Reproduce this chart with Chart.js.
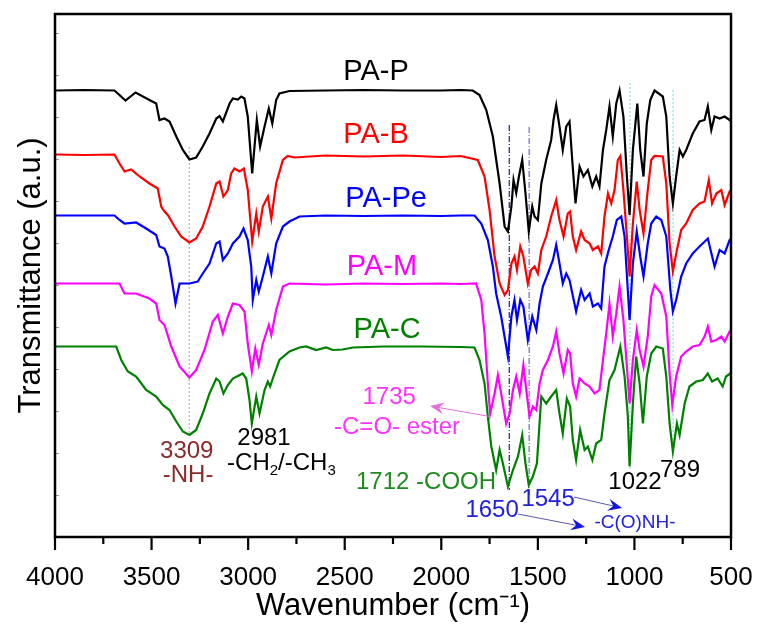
<!DOCTYPE html>
<html><head><meta charset="utf-8">
<script src="https://cdn.jsdelivr.net/npm/chart.js@4.4.0/dist/chart.umd.min.js"></script>
<style>html,body{margin:0;padding:0;background:#fff}#wrap{width:760px;height:628px;position:relative}</style>
</head><body><div id="wrap"><canvas id="c"></canvas></div>
<script>
// ---- data: [wavenumber (cm-1), transmittance (a.u.)] ----
const seriesNames = ['PA-P', 'PA-B', 'PA-Pe', 'PA-M', 'PA-C'];
const xTickValues = [4000, 3500, 3000, 2500, 2000, 1500, 1000, 500];

const paP = [[4000,89.3],[3850,89.4],[3692,89.3],[3635,87.3],[3583,88.9],[3511,87.4],[3476,86.7],[3459,83.4],[3433,83.7],[3407,83.1],[3372,80.1],[3338,77.4],[3304,75.5],[3269,75.9],[3235,78.1],[3200,80.7],[3165,83.7],[3148,84.2],[3131,83.1],[3096,86.7],[3079,87.7],[3053,87.5],[3036,88.1],[3019,87.7],[3002,84.1],[2979,72.7],[2967,78.1],[2955,83.4],[2938,78.1],[2915,82.1],[2893,85.7],[2875,82.7],[2855,87.4],[2838,88.7],[2786,89.2],[2600,89.3],[2400,89.4],[2200,89.3],[2000,89.3],[1900,89.4],[1837,89.3],[1802,88.4],[1767,85.4],[1733,80.1],[1698,70.7],[1672,62.1],[1655,61.1],[1637,66.1],[1626,71.4],[1612,68.8],[1598,72.1],[1581,75.4],[1564,68.7],[1547,61.1],[1529,66.1],[1517,64.1],[1500,63.4],[1482,70.7],[1457,75.4],[1431,79.4],[1419,83.4],[1405,86.4],[1388,82.1],[1371,77.4],[1353,82.1],[1336,83.1],[1322,75.4],[1305,66.7],[1284,74.1],[1264,72.1],[1241,73.4],[1218,70.1],[1198,72.1],[1181,70.1],[1163,77.4],[1146,81.4],[1129,86.1],[1112,80.1],[1094,86.7],[1077,89.3],[1057,84.1],[1039,72.1],[1025,64.4],[1008,77.4],[985,86.7],[970,77.4],[953,72.1],[936,82.7],[918,87.4],[896,89.3],[853,88.1],[835,84.1],[818,72.1],[801,66.7],[784,72.1],[766,77.4],[749,76.1],[732,77.4],[698,80.7],[663,83.1],[637,83.4],[620,86.1],[602,81.4],[585,84.1],[559,83.7],[533,84.1],[507,83.4],[500,83.2]];

const paB = [[4000,76.5],[3850,76.4],[3692,76.5],[3666,74.7],[3640,73.1],[3606,73.5],[3562,72.1],[3511,70.7],[3468,69.7],[3450,66.1],[3433,65.1],[3416,64.4],[3381,62.1],[3347,60.1],[3304,58.9],[3269,59.7],[3235,62.1],[3200,66.1],[3165,70.7],[3148,71.1],[3128,68.1],[3105,69.4],[3088,72.7],[3071,73.7],[3045,73.1],[3022,73.7],[3002,69.4],[2979,59.1],[2958,64.7],[2945,61.1],[2924,66.1],[2898,68.1],[2880,63.7],[2855,70.7],[2820,75.4],[2795,76.2],[2760,75.9],[2600,76.3],[2400,76.1],[2200,76.3],[2000,76.0],[1900,76.2],[1811,75.4],[1776,72.1],[1750,65.4],[1724,56.1],[1698,50.7],[1672,48.4],[1655,49.4],[1637,54.7],[1621,56.1],[1608,53.4],[1591,58.1],[1575,56.1],[1552,50.7],[1535,53.4],[1517,54.1],[1500,52.7],[1482,57.4],[1457,60.1],[1431,64.1],[1405,67.4],[1388,63.4],[1367,60.1],[1345,64.7],[1333,65.1],[1319,60.1],[1302,57.4],[1276,61.1],[1258,59.4],[1232,58.7],[1215,57.4],[1189,58.1],[1172,56.7],[1155,64.1],[1137,68.7],[1120,66.7],[1103,69.4],[1086,75.4],[1073,76.2],[1057,69.4],[1039,60.1],[1025,52.1],[1008,62.7],[988,71.1],[973,65.4],[953,60.7],[931,69.4],[913,75.4],[896,76.2],[853,76.1],[835,70.7],[818,58.7],[801,53.1],[780,57.4],[758,61.4],[732,62.7],[698,65.4],[663,66.7],[637,67.1],[615,71.4],[598,66.7],[576,68.7],[550,69.4],[533,66.4],[507,69.1],[500,69.3]];

const paPe = [[4000,64.3],[3850,64.3],[3692,64.3],[3666,63.4],[3640,62.7],[3580,62.9],[3528,61.7],[3476,60.4],[3459,58.1],[3433,57.7],[3416,56.1],[3398,52.1],[3376,46.7],[3355,50.7],[3304,50.7],[3261,51.1],[3235,52.7],[3200,54.7],[3165,58.7],[3148,59.1],[3131,55.4],[3105,56.7],[3079,58.7],[3045,60.1],[3024,61.7],[3002,59.4],[2984,54.1],[2976,47.4],[2958,51.4],[2945,49.1],[2924,52.1],[2898,56.1],[2880,52.7],[2855,58.7],[2820,62.1],[2786,63.1],[2734,64.1],[2600,64.3],[2400,64.2],[2200,64.3],[2000,64.2],[1900,64.3],[1828,64.3],[1793,62.7],[1759,59.4],[1733,54.1],[1716,48.7],[1690,44.1],[1655,36.1],[1637,44.1],[1621,47.4],[1608,43.4],[1591,47.4],[1575,46.1],[1552,39.4],[1529,44.1],[1508,41.4],[1491,46.7],[1474,50.1],[1448,52.7],[1422,55.4],[1405,58.4],[1388,54.7],[1371,50.7],[1353,52.7],[1336,51.4],[1302,45.1],[1276,49.4],[1258,47.4],[1232,48.7],[1215,46.1],[1189,46.7],[1172,45.7],[1155,54.1],[1133,57.4],[1112,60.1],[1091,63.4],[1068,64.1],[1051,60.1],[1025,43.4],[1008,54.7],[988,61.1],[970,56.1],[953,52.1],[931,58.7],[913,62.7],[887,64.1],[861,63.4],[835,60.1],[814,49.4],[801,45.1],[784,47.4],[758,52.1],[732,54.7],[698,56.7],[663,58.1],[620,59.7],[585,54.1],[559,57.4],[533,56.7],[507,59.4],[500,59.6]];

const paM = [[4000,50.7],[3850,50.7],[3666,50.7],[3640,48.7],[3580,48.7],[3511,47.7],[3476,46.7],[3459,43.4],[3433,42.4],[3398,38.1],[3355,34.1],[3304,31.9],[3269,33.4],[3226,37.4],[3183,43.1],[3157,44.4],[3131,40.7],[3105,44.1],[3079,46.7],[3045,46.4],[3019,45.1],[3002,38.7],[2981,33.1],[2963,37.7],[2945,34.4],[2924,38.7],[2893,42.4],[2880,40.4],[2855,45.4],[2820,50.1],[2786,50.7],[2600,50.5],[2400,50.7],[2200,50.6],[2000,50.7],[1900,50.6],[1820,50.7],[1793,47.4],[1776,40.7],[1759,30.7],[1747,24.7],[1724,28.7],[1707,32.4],[1690,28.7],[1664,22.7],[1646,24.7],[1629,29.4],[1612,32.1],[1594,28.7],[1575,34.4],[1560,29.4],[1543,24.1],[1526,26.1],[1508,25.4],[1491,30.7],[1474,33.4],[1448,35.4],[1422,38.1],[1405,41.1],[1388,36.7],[1367,32.7],[1345,37.4],[1333,36.7],[1319,30.7],[1302,28.1],[1284,31.7],[1258,30.7],[1232,30.1],[1206,28.7],[1181,29.4],[1163,35.4],[1146,40.7],[1129,46.7],[1112,40.1],[1094,44.7],[1077,50.1],[1057,43.4],[1039,34.1],[1025,26.7],[1008,35.4],[988,41.4],[973,37.4],[953,34.1],[931,40.1],[913,48.1],[896,50.4],[861,48.7],[835,44.1],[818,32.7],[804,26.4],[784,32.1],[758,36.1],[732,37.1],[698,38.1],[663,38.4],[637,40.1],[620,42.1],[602,39.1],[576,39.4],[550,40.1],[533,39.1],[507,41.1],[500,41.3]];

const paC = [[4000,38.1],[3850,38.1],[3683,38.1],[3657,35.4],[3623,33.1],[3580,32.1],[3528,29.4],[3476,28.1],[3442,26.4],[3407,25.4],[3372,23.1],[3338,21.1],[3304,20.4],[3269,21.4],[3235,24.7],[3200,28.7],[3165,31.7],[3148,31.1],[3128,28.7],[3105,30.4],[3079,31.7],[3053,32.2],[3028,32.7],[3010,31.7],[2993,27.4],[2981,22.7],[2958,28.1],[2941,24.7],[2915,29.4],[2898,31.1],[2886,30.1],[2869,32.1],[2838,35.4],[2786,37.1],[2734,37.9],[2700,38.1],[2648,37.4],[2596,37.9],[2562,37.4],[2510,37.5],[2458,37.9],[2300,38.1],[2100,38.1],[1900,38.0],[1828,37.9],[1802,35.4],[1776,30.7],[1759,24.1],[1741,18.1],[1716,13.4],[1698,17.4],[1681,14.7],[1655,10.1],[1629,13.4],[1603,16.1],[1581,20.4],[1564,14.7],[1547,10.4],[1526,12.1],[1505,14.7],[1482,28.1],[1457,26.7],[1431,28.1],[1405,29.4],[1388,24.7],[1371,20.7],[1350,27.7],[1333,26.1],[1319,19.4],[1302,15.4],[1281,21.4],[1258,17.4],[1241,18.1],[1218,15.4],[1198,18.7],[1172,19.4],[1155,24.7],[1129,31.4],[1103,33.4],[1073,38.1],[1051,32.1],[1034,24.1],[1025,14.1],[1008,26.7],[991,36.1],[973,30.7],[956,22.7],[936,32.1],[913,36.7],[887,38.1],[853,37.7],[835,32.1],[818,22.7],[801,17.1],[780,22.7],[766,20.4],[740,26.7],[715,30.1],[680,31.1],[646,31.4],[620,32.7],[598,31.1],[569,31.7],[543,30.1],[526,32.1],[507,32.6],[500,32.8]];

// band marker lines: wavenumber, upper and lower transmittance ends
const markerWavenumbers = [3305, 1648, 1545, 1023, 800];
const markerTop = [78.0, 82.4, 82.0, 90.8, 89.4];
const markerBottom = [20.4, 9.4, 8.4, 13.4, 16.4];

// ---- styles ----
const seriesColors = ['#000000', '#ff0000', '#0000ff', '#ff00ff', '#008000'];
const markerColors = ['#c9a9a9', '#20208a', '#6a6ad0', '#7fe3e3', '#7fe3e3'];
const markerDash = [[2, 2], [6, 2, 1, 2], [6, 2, 1, 2], [2, 2], [2, 2]];
const FONT = "'Liberation Sans', Arial, Helvetica, sans-serif";
Chart.defaults.font.family = FONT;

// name label positions (in data units) for each series
const nameLabelPos = [[2338, 93.0], [2338, 80.4], [2286, 67.7], [2307, 54.1], [2281, 41.4]];

// annotation texts
const notes = [
  {t: '3309', x: 3318, y: 17.2, c: '#8b2a2a', s: 24},
  {t: '-NH-', x: 3311, y: 12.4, c: '#8b2a2a', s: 24},
  {t: '2981', x: 2918, y: 19.8, c: '#000000', s: 24},
  {t: '1735', x: 2270, y: 28.0, c: '#ff33ff', s: 24},
  {t: '-C=O- ester', x: 2229, y: 22.0, c: '#ff33ff', s: 24},
  {t: '1712 -COOH', x: 2079, y: 11.0, c: '#1f8a1f', s: 24},
  {t: '1022', x: 997, y: 11.0, c: '#000000', s: 24},
  {t: '789', x: 764, y: 13.4, c: '#000000', s: 24},
  {t: '1545', x: 1447, y: 7.6, c: '#2020e0', s: 24},
  {t: '1650', x: 1737, y: 5.4, c: '#2020e0', s: 24},
  {t: '-C(O)NH-', x: 997, y: 2.8, c: '#2020e0', s: 19}
];
const arrows = [
  {from: [1748, 24.1], to: [2058, 26.2], c: '#e070e0', h: '#e070e0'},
  {from: [1313, 8.0], to: [1064, 5.8], c: '#5a5ab0', h: '#1515e0'},
  {from: [1603, 4.6], to: [1256, 2.0], c: '#5a5ab0', h: '#1515e0'}
];

const datasets = [paP, paB, paPe, paM, paC].map((d, i) => ({
  label: seriesNames[i], data: d, borderColor: seriesColors[i], borderWidth: 2.2,
  pointRadius: 0, tension: 0, fill: false
}));
markerWavenumbers.forEach((w, i) => {
  datasets.push({
    label: 'marker' + i, data: [[w, markerTop[i]], [w, markerBottom[i]]],
    borderColor: markerColors[i], borderWidth: 1.2, borderDash: markerDash[i],
    pointRadius: 0, fill: false
  });
});

const deco = {
  id: 'deco',
  afterDatasetsDraw(chart) {
    const {ctx, chartArea: a, scales: {x, y}} = chart;
    ctx.save();
    // series name labels
    ctx.textAlign = 'center'; ctx.textBaseline = 'middle';
    ctx.font = '29px ' + FONT;
    seriesNames.forEach((n, i) => {
      ctx.fillStyle = seriesColors[i];
      ctx.fillText(n, x.getPixelForValue(nameLabelPos[i][0]), y.getPixelForValue(nameLabelPos[i][1]));
    });
    // notes
    notes.forEach(n => {
      ctx.font = n.s + 'px ' + FONT; ctx.fillStyle = n.c;
      ctx.fillText(n.t, x.getPixelForValue(n.x), y.getPixelForValue(n.y));
    });
    // -CH2/-CH3 with subscripts
    {
      let px = x.getPixelForValue(3109), py = y.getPixelForValue(14.8);
      ctx.textAlign = 'left'; ctx.fillStyle = '#000';
      const parts = [['-CH', 0], ['2', 1], ['/-CH', 0], ['3', 1]];
      parts.forEach(([s, sub]) => {
        ctx.font = (sub ? 15 : 24) + 'px ' + FONT;
        ctx.fillText(s, px, py + (sub ? 8 : 0));
        px += ctx.measureText(s).width;
      });
    }
    // arrows
    arrows.forEach(ar => {
      const x1 = x.getPixelForValue(ar.from[0]), y1 = y.getPixelForValue(ar.from[1]);
      const x2 = x.getPixelForValue(ar.to[0]), y2 = y.getPixelForValue(ar.to[1]);
      const ang = Math.atan2(y2 - y1, x2 - x1);
      ctx.strokeStyle = ar.c; ctx.lineWidth = 1;
      ctx.beginPath(); ctx.moveTo(x1, y1); ctx.lineTo(x2 - 6 * Math.cos(ang), y2 - 6 * Math.sin(ang)); ctx.stroke();
      ctx.fillStyle = ar.h;
      ctx.beginPath();
      ctx.moveTo(x2, y2);
      ctx.lineTo(x2 - 14 * Math.cos(ang) + 6 * Math.sin(ang), y2 - 14 * Math.sin(ang) - 6 * Math.cos(ang));
      ctx.lineTo(x2 - 9 * Math.cos(ang), y2 - 9 * Math.sin(ang));
      ctx.lineTo(x2 - 14 * Math.cos(ang) - 6 * Math.sin(ang), y2 - 14 * Math.sin(ang) + 6 * Math.cos(ang));
      ctx.closePath(); ctx.fill();
    });
    ctx.restore();
  },
  afterDraw(chart) {
    const {ctx, chartArea: a, scales: {x, y}} = chart;
    ctx.save();
    // y minor ticks (inward, faint)
    ctx.strokeStyle = '#9a9a9a'; ctx.lineWidth = 1;
    y.ticks.forEach(t => {
      const py = Math.round(y.getPixelForValue(t.value)) + 0.5;
      if (py < a.top + 4 || py > a.bottom - 4) return;
      ctx.beginPath(); ctx.moveTo(a.left, py); ctx.lineTo(a.left + 4, py); ctx.stroke();
    });
    // x ticks (outward, major/minor)
    ctx.strokeStyle = '#000'; ctx.lineWidth = 2.2;
    x.ticks.forEach(t => {
      const px = x.getPixelForValue(t.value);
      const major = t.value % 500 === 0;
      ctx.beginPath(); ctx.moveTo(px, a.bottom); ctx.lineTo(px, a.bottom + (major ? 13 : 7)); ctx.stroke();
    });
    // frame
    ctx.lineWidth = 2.5;
    ctx.strokeRect(a.left, a.top, a.right - a.left, a.bottom - a.top);
    ctx.restore();
  }
};

new Chart(document.getElementById('c'), {
  type: 'line',
  data: {datasets},
  options: {
    responsive: true, maintainAspectRatio: false, animation: false,
    layout: {padding: {top: 14, right: 29, left: 0, bottom: 0}},
    plugins: {legend: {display: false}, tooltip: {enabled: false}},
    scales: {
      x: {
        type: 'linear', reverse: true, min: 500, max: 4000,
        grid: {display: false, drawTicks: true, tickLength: 25}, border: {display: false},
        ticks: {
          stepSize: 250, autoSkip: false, maxRotation: 0, padding: 0,
          color: '#000', font: {size: 26},
          callback: v => xTickValues.includes(v) ? String(v) : ''
        },
        title: {display: true, text: 'Wavenumber (cm⁻¹)', color: '#000', font: {size: 31}, padding: {top: 0, bottom: 3}},
        afterFit: s => { s.height = 91; }
      },
      y: {
        min: 0, max: 104.6,
        grid: {display: false, drawTicks: false}, border: {display: false},
        ticks: {display: false, stepSize: 8.4},
        title: {display: true, text: 'Transmittance (a.u.)', color: '#000', font: {size: 31}, padding: {top: 13, bottom: 0}},
        afterFit: s => { s.width = 55; }
      }
    }
  },
  plugins: [deco]
});
</script>
</body></html>
